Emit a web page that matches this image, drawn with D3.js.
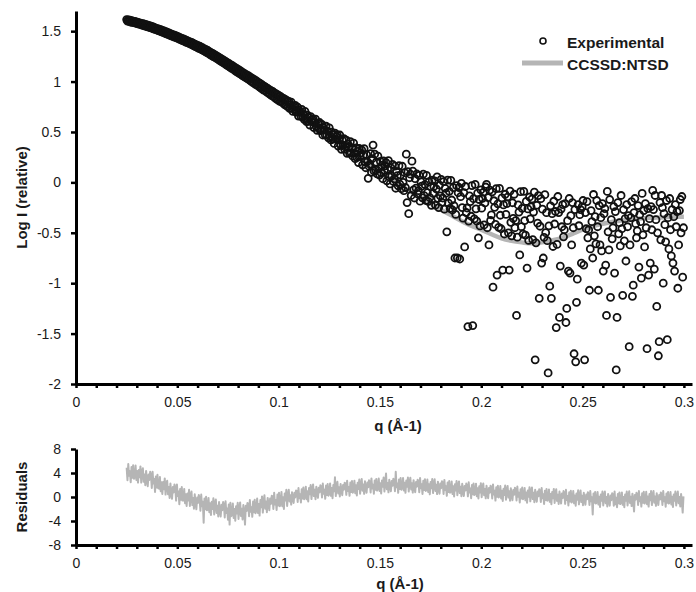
<!DOCTYPE html>
<html>
<head>
<meta charset="utf-8">
<script src="https://cdn.jsdelivr.net/npm/d3@7"></script>
<style>
  body { margin: 0; background: #fff; }
  text { font-family: Arial, "Liberation Sans", sans-serif; fill: #1a1a1a; }
</style>
</head>
<body>
<div id="chart"></div>
<script>
// q values (Å-1) of the measured curve
const qExp = [
  0.025,0.0254,0.0258,0.0262,0.0266,0.027,0.0274,0.0278,0.0282,0.0286,
  0.029,0.0294,0.0298,0.0302,0.0306,0.031,0.0314,0.0318,0.0322,0.0326,
  0.033,0.0334,0.0338,0.0342,0.0346,0.035,0.0354,0.0358,0.0362,0.0366,
  0.037,0.0374,0.0378,0.0382,0.0386,0.039,0.0394,0.0398,0.0402,0.0406,
  0.041,0.0414,0.0418,0.0422,0.0426,0.043,0.0434,0.0438,0.0442,0.0446,
  0.045,0.0454,0.0458,0.0462,0.0466,0.047,0.0474,0.0478,0.0482,0.0486,
  0.049,0.0494,0.0498,0.0502,0.0506,0.051,0.0514,0.0518,0.0522,0.0526,
  0.053,0.0534,0.0538,0.0542,0.0546,0.055,0.0554,0.0558,0.0562,0.0566,
  0.057,0.0574,0.0578,0.0582,0.0586,0.059,0.0594,0.0598,0.0602,0.0606,
  0.061,0.0614,0.0618,0.0622,0.0626,0.063,0.0634,0.0638,0.0642,0.0646,
  0.065,0.0654,0.0658,0.0662,0.0666,0.067,0.0674,0.0678,0.0682,0.0686,
  0.069,0.0694,0.0698,0.0702,0.0706,0.071,0.0714,0.0718,0.0722,0.0726,
  0.073,0.0734,0.0738,0.0742,0.0746,0.075,0.0754,0.0758,0.0762,0.0766,
  0.077,0.0774,0.0778,0.0782,0.0786,0.079,0.0794,0.0798,0.0802,0.0806,
  0.081,0.0814,0.0818,0.0822,0.0826,0.083,0.0834,0.0838,0.0842,0.0846,
  0.085,0.0854,0.0858,0.0862,0.0866,0.087,0.0874,0.0878,0.0882,0.0886,
  0.089,0.0894,0.0898,0.0902,0.0906,0.091,0.0914,0.0918,0.0922,0.0926,
  0.093,0.0934,0.0938,0.0942,0.0946,0.095,0.0954,0.0958,0.0962,0.0966,
  0.097,0.0974,0.0978,0.0982,0.0986,0.099,0.0994,0.0998,0.1002,0.1006,
  0.101,0.1014,0.1018,0.1022,0.1026,0.103,0.1034,0.1038,0.1042,0.1046,
  0.105,0.1054,0.1058,0.1062,0.1066,0.107,0.1074,0.1078,0.1082,0.1086,
  0.109,0.1094,0.1098,0.1102,0.1106,0.111,0.1114,0.1118,0.1122,0.1126,
  0.113,0.1134,0.1138,0.1142,0.1146,0.115,0.1154,0.1158,0.1162,0.1166,
  0.117,0.1174,0.1178,0.1182,0.1186,0.119,0.1194,0.1198,0.1202,0.1206,
  0.121,0.1214,0.1218,0.1222,0.1226,0.123,0.1234,0.1238,0.1242,0.1246,
  0.125,0.1254,0.1258,0.1262,0.1266,0.127,0.1274,0.1278,0.1282,0.1286,
  0.129,0.1294,0.1298,0.1302,0.1306,0.131,0.1314,0.1318,0.1322,0.1326,
  0.133,0.1334,0.1338,0.1342,0.1346,0.135,0.1354,0.1358,0.1362,0.1366,
  0.137,0.1374,0.1378,0.1382,0.1386,0.139,0.1394,0.1398,0.1402,0.1406,
  0.141,0.1414,0.1418,0.1422,0.1426,0.143,0.1434,0.1438,0.1442,0.1446,
  0.145,0.1454,0.1458,0.1462,0.1466,0.147,0.1474,0.1478,0.1482,0.1486,
  0.149,0.1494,0.1498,0.1502,0.1506,0.151,0.1514,0.1518,0.1522,0.1526,
  0.153,0.1534,0.1538,0.1542,0.1546,0.155,0.1554,0.1558,0.1562,0.1566,
  0.157,0.1574,0.1578,0.1582,0.1586,0.159,0.1594,0.1598,0.1602,0.1606,
  0.161,0.1614,0.1618,0.1622,0.1626,0.163,0.1634,0.1638,0.1642,0.1646,
  0.165,0.1654,0.1658,0.1662,0.1666,0.167,0.1674,0.1678,0.1682,0.1686,
  0.169,0.1694,0.1698,0.1702,0.1706,0.171,0.1714,0.1718,0.1722,0.1726,
  0.173,0.1734,0.1738,0.1742,0.1746,0.175,0.1754,0.1758,0.1762,0.1766,
  0.177,0.1774,0.1778,0.1782,0.1786,0.179,0.1794,0.1798,0.1802,0.1806,
  0.181,0.1814,0.1818,0.1822,0.1826,0.183,0.1834,0.1838,0.1842,0.1846,
  0.185,0.1854,0.1858,0.1862,0.1866,0.187,0.1874,0.1878,0.1882,0.1886,
  0.189,0.1894,0.1898,0.1902,0.1906,0.191,0.1914,0.1918,0.1922,0.1926,
  0.193,0.1934,0.1938,0.1942,0.1946,0.195,0.1954,0.1958,0.1962,0.1966,
  0.197,0.1974,0.1978,0.1982,0.1986,0.199,0.1994,0.1998,0.2002,0.2006,
  0.201,0.2014,0.2018,0.2022,0.2026,0.203,0.2034,0.2038,0.2042,0.2046,
  0.205,0.2054,0.2058,0.2062,0.2066,0.207,0.2074,0.2078,0.2082,0.2086,
  0.209,0.2094,0.2098,0.2102,0.2106,0.211,0.2114,0.2118,0.2122,0.2126,
  0.213,0.2134,0.2138,0.2142,0.2146,0.215,0.2154,0.2158,0.2162,0.2166,
  0.217,0.2174,0.2178,0.2182,0.2186,0.219,0.2194,0.2198,0.2202,0.2206,
  0.221,0.2214,0.2218,0.2222,0.2226,0.223,0.2234,0.2238,0.2242,0.2246,
  0.225,0.2254,0.2258,0.2262,0.2266,0.227,0.2274,0.2278,0.2282,0.2286,
  0.229,0.2294,0.2298,0.2302,0.2306,0.231,0.2314,0.2318,0.2322,0.2326,
  0.233,0.2334,0.2338,0.2342,0.2346,0.235,0.2354,0.2358,0.2362,0.2366,
  0.237,0.2374,0.2378,0.2382,0.2386,0.239,0.2394,0.2398,0.2402,0.2406,
  0.241,0.2414,0.2418,0.2422,0.2426,0.243,0.2434,0.2438,0.2442,0.2446,
  0.245,0.2454,0.2458,0.2462,0.2466,0.247,0.2474,0.2478,0.2482,0.2486,
  0.249,0.2494,0.2498,0.2502,0.2506,0.251,0.2514,0.2518,0.2522,0.2526,
  0.253,0.2534,0.2538,0.2542,0.2546,0.255,0.2554,0.2558,0.2562,0.2566,
  0.257,0.2574,0.2578,0.2582,0.2586,0.259,0.2594,0.2598,0.2602,0.2606,
  0.261,0.2614,0.2618,0.2622,0.2626,0.263,0.2634,0.2638,0.2642,0.2646,
  0.265,0.2654,0.2658,0.2662,0.2666,0.267,0.2674,0.2678,0.2682,0.2686,
  0.269,0.2694,0.2698,0.2702,0.2706,0.271,0.2714,0.2718,0.2722,0.2726,
  0.273,0.2734,0.2738,0.2742,0.2746,0.275,0.2754,0.2758,0.2762,0.2766,
  0.277,0.2774,0.2778,0.2782,0.2786,0.279,0.2794,0.2798,0.2802,0.2806,
  0.281,0.2814,0.2818,0.2822,0.2826,0.283,0.2834,0.2838,0.2842,0.2846,
  0.285,0.2854,0.2858,0.2862,0.2866,0.287,0.2874,0.2878,0.2882,0.2886,
  0.289,0.2894,0.2898,0.2902,0.2906,0.291,0.2914,0.2918,0.2922,0.2926,
  0.293,0.2934,0.2938,0.2942,0.2946,0.295,0.2954,0.2958,0.2962,0.2966,
  0.297,0.2974,0.2978,0.2982,0.2986,0.299,0.2994,0.2998
];

// Log I of the measured points, one per q above
const logI = [
  1.615,1.600,1.612,1.598,1.610,1.590,1.605,1.588,1.600,1.585,
  1.598,1.580,1.592,1.575,1.588,1.570,1.583,1.566,1.578,1.560,
  1.575,1.556,1.570,1.551,1.565,1.545,1.560,1.540,1.555,1.536,
  1.550,1.530,1.544,1.523,1.538,1.518,1.531,1.512,1.526,1.506,
  1.521,1.500,1.515,1.494,1.508,1.487,1.502,1.481,1.495,1.474,
  1.489,1.468,1.482,1.461,1.476,1.454,1.469,1.447,1.462,1.440,
  1.457,1.435,1.450,1.428,1.443,1.421,1.436,1.413,1.429,1.406,
  1.423,1.400,1.416,1.392,1.409,1.386,1.401,1.378,1.394,1.371,
  1.389,1.363,1.380,1.354,1.372,1.346,1.364,1.338,1.357,1.330,
  1.351,1.325,1.342,1.314,1.333,1.306,1.325,1.297,1.316,1.287,
  1.308,1.279,1.297,1.268,1.288,1.258,1.279,1.248,1.270,1.239,
  1.260,1.230,1.249,1.219,1.240,1.208,1.231,1.198,1.221,1.188,
  1.211,1.178,1.199,1.166,1.189,1.155,1.180,1.145,1.169,1.133,
  1.160,1.125,1.148,1.113,1.138,1.102,1.128,1.092,1.118,1.080,
  1.108,1.072,1.096,1.060,1.086,1.049,1.077,1.039,1.066,1.028,
  1.058,1.018,1.046,1.006,1.036,0.994,1.027,0.984,1.016,0.973,
  1.007,0.964,0.995,0.951,0.985,0.939,0.974,0.927,0.963,0.915,
  0.953,0.909,0.941,0.896,0.931,0.884,0.921,0.872,0.910,0.860,
  0.902,0.853,0.889,0.839,0.880,0.826,0.871,0.815,0.861,0.804,
  0.851,0.800,0.838,0.785,0.830,0.772,0.821,0.760,0.810,0.751,
  0.803,0.733,0.771,0.797,0.735,0.705,0.759,0.725,0.763,0.697,
  0.702,0.745,0.658,0.715,0.696,0.654,0.724,0.651,0.681,0.625,
  0.705,0.639,0.603,0.667,0.606,0.640,0.569,0.653,0.602,0.621,
  0.630,0.544,0.593,0.628,0.552,0.516,0.585,0.544,0.594,0.513,
  0.520,0.574,0.470,0.541,0.520,0.470,0.557,0.470,0.508,0.442,
  0.540,0.462,0.421,0.499,0.428,0.470,0.386,0.489,0.429,0.454,
  0.470,0.360,0.425,0.470,0.373,0.328,0.420,0.368,0.433,0.329,
  0.349,0.420,0.288,0.380,0.353,0.291,0.404,0.293,0.343,0.260,
  0.390,0.289,0.235,0.342,0.248,0.307,0.197,0.336,0.258,0.293,
  0.323,0.174,0.268,0.335,0.204,0.145,0.275,0.207,0.040,0.161,
  0.180,0.285,0.100,0.235,0.370,0.115,0.280,0.125,0.200,0.085,
  0.260,0.136,0.072,0.208,0.094,0.170,0.036,0.212,0.118,0.164,
  0.197,0.016,0.132,0.215,0.056,-0.015,0.145,0.063,0.179,0.009,
  0.034,0.162,-0.058,0.106,0.066,-0.034,0.166,-0.018,0.074,-0.062,
  0.160,0.000,-0.082,0.096,-0.051,0.280,-0.200,0.106,-0.310,0.046,
  0.081,-0.130,0.210,0.111,-0.074,-0.155,0.037,-0.057,0.083,-0.115,
  -0.082,0.069,-0.186,0.007,-0.038,-0.153,0.082,-0.131,-0.022,-0.179,
  0.070,-0.101,-0.188,0.005,-0.152,-0.043,-0.228,0.021,-0.108,-0.041,
  0.015,-0.227,-0.064,0.054,-0.158,-0.250,-0.027,-0.134,0.029,-0.198,
  -0.155,0.007,-0.266,-0.059,-0.107,-0.490,0.022,-0.206,-0.089,-0.257,
  0.020,-0.175,-0.274,-0.053,-0.232,-0.750,-0.318,-0.033,-0.750,-0.103,
  -0.051,-0.760,-0.142,-0.009,-0.250,-0.355,-0.103,-0.640,-0.041,-0.299,
  -0.254,-1.430,-0.384,-0.134,-0.190,-0.336,-0.032,-1.420,-0.162,-0.362,
  -0.020,-0.262,-0.384,-0.106,-0.550,-0.170,-0.432,-0.074,-0.256,-0.158,
  -0.100,-0.422,-0.204,-0.046,-0.020,-0.450,-0.152,-0.620,-0.076,-0.378,
  -0.323,-0.094,-1.040,-0.182,-0.247,-0.417,-0.062,-0.920,-0.213,-0.446,
  -0.060,-0.326,-0.460,-0.154,-0.870,-0.224,-0.512,-0.118,-0.318,-0.210,
  -0.146,-0.500,-0.870,-0.086,-0.396,-0.530,-0.202,-0.358,-0.118,-0.450,
  -0.379,-1.320,-0.544,-0.224,-0.295,-0.720,-0.092,-0.439,-0.257,-0.512,
  -0.090,-0.379,-0.524,-0.189,-0.850,-0.263,-0.576,-0.145,-0.362,-0.243,
  -0.165,-0.567,-0.294,-0.096,-1.760,-0.600,-0.227,-0.404,-0.131,-1.150,
  -0.435,-0.162,-0.800,-0.266,-0.750,-0.545,-0.122,-0.499,-0.301,-0.578,
  -1.890,-0.431,-1.030,-0.233,-1.150,-0.310,-0.636,-0.187,-0.413,-0.289,
  -1.440,-0.615,-0.140,-0.300,-1.340,-0.830,-0.265,-0.440,-0.220,-0.540,
  -0.47,-0.21,-1.39,-1.25,-0.38,-0.88,-0.16,-0.90,-0.33,-0.62,
  -0.20,-0.45,-1.70,-0.27,-1.78,-1.19,-0.96,-0.22,-0.43,-0.32,
  -0.27,-0.80,-0.24,-0.18,-0.82,-1.76,-0.30,-0.46,-0.19,-0.55,
  -0.47,-1.07,-0.66,-0.28,-0.39,-0.75,-0.12,-0.53,-0.34,-0.61,
  -0.18,-0.44,-1.07,-0.23,-0.62,-0.35,-0.68,-0.21,-0.88,-0.31,
  -0.26,-0.82,-1.32,-0.09,-0.49,-0.67,-0.17,-1.14,-0.37,-0.56,
  -0.45,-0.24,-0.90,-0.29,-1.86,-1.34,-0.20,-0.51,-0.40,-0.63,
  -0.13,-0.46,-1.12,-0.27,-0.58,-0.36,-0.78,-0.22,-0.44,-0.33,
  -1.63,-0.62,-0.35,-0.19,-1.13,-1.02,-0.30,-0.16,-0.41,-0.55,
  -0.48,-0.23,-0.84,-0.32,-0.39,-0.95,-0.11,-0.52,-0.28,-0.64,
  -0.21,-0.45,-1.65,-0.26,-0.92,-0.36,-0.80,-0.24,-0.47,-0.08,
  -0.27,-0.86,-0.13,-0.37,-1.23,-0.50,-1.72,-1.58,-0.20,-0.57,
  -0.13,-0.25,-1.00,-0.31,-0.42,-0.59,-0.18,-1.56,-0.35,-0.66,
  -0.16,-0.47,-0.73,-0.27,-0.80,-0.34,-0.88,-0.22,-0.44,-0.29,
  -1.05,-0.62,-0.28,-0.17,-0.50,-0.14,-0.94,-0.45
];

// model curve CCSSD:NTSD
const qFit = [0.025,0.03,0.035,0.04,0.045,0.05,0.055,0.06,0.065,0.07,0.075,0.08,0.085,0.09,0.095,
  0.1,0.105,0.11,0.115,0.12,0.125,0.13,0.135,0.14,0.145,0.15,0.155,0.16,0.165,0.17,0.175,0.18,0.185,
  0.19,0.195,0.2,0.205,0.21,0.215,0.22,0.225,0.23,0.235,0.24,0.245,0.25,0.255,0.26,0.265,0.27,0.275,
  0.28,0.285,0.29,0.295,0.3];
const logIFit = [1.61,1.585,1.555,1.52,1.48,1.44,1.395,1.35,1.295,1.235,1.17,1.105,1.04,0.975,0.905,
  0.84,0.775,0.70,0.625,0.55,0.48,0.41,0.33,0.25,0.175,0.10,0.035,-0.03,-0.09,-0.15,-0.21,-0.27,-0.325,
  -0.38,-0.43,-0.47,-0.515,-0.555,-0.58,-0.595,-0.605,-0.595,-0.575,-0.55,-0.51,-0.47,-0.435,-0.41,-0.39,-0.375,-0.365,
  -0.355,-0.35,-0.345,-0.342,-0.34];

// residuals, one per q in qExp
const residuals = [
  4.9,2.8,5.5,3.55,4.3,2.45,5.0,3.2,5.3,3.05,
  3.3,5.25,2.85,4.35,2.4,4.5,3.3,5.1,2.4,4.2,
  4.8,2.55,3.75,1.95,4.35,2.7,1.8,3.75,2.85,4.2,
  3.6,1.5,4.2,2.25,3.0,0.85,3.4,1.6,3.7,1.45,
  1.4,3.35,0.95,2.45,0.5,2.5,1.3,3.1,0.4,2.2,
  2.7,0.45,1.65,-0.15,2.25,0.6,-0.3,1.65,0.75,2.1,
  1.5,-0.6,2.1,0.15,0.9,-1.2,1.35,-0.45,1.65,-0.6,
  -0.6,1.35,-1.05,0.45,-1.5,0.6,-0.6,1.2,-1.5,0.3,
  0.9,-1.35,-0.15,-1.95,0.45,-1.15,-2.05,-0.1,-1.0,0.35,
  -0.2,-2.3,0.4,-1.55,-0.8,-4.3,-0.25,-2.05,0.05,-2.2,
  -2.1,-0.15,-2.55,-1.05,-3.0,-0.8,-2.0,-0.2,-2.9,-1.1,
  -0.4,-2.65,-1.45,-3.25,-0.85,-2.35,-3.25,-1.3,-2.2,-0.85,
  -1.3,-3.4,-0.7,-2.65,-1.9,-3.8,-1.25,-4.6,-0.95,-3.2,
  -3.05,-1.1,-3.5,-2.0,-3.95,-1.55,-2.75,-0.95,-3.65,-1.85,
  -0.9,-3.15,-1.95,-3.75,-1.35,-2.5,-4.6,-1.45,-2.35,-1.0,
  -1.1,-3.2,-0.5,-2.45,-1.7,-3.3,-0.75,-2.55,-0.45,-2.7,
  -2.2,-0.25,-2.65,-1.15,-3.1,-0.5,-1.7,0.1,-2.6,-0.8,
  0.3,-1.95,-0.75,-2.55,-0.15,-1.3,-2.2,-0.25,-1.15,0.2,
  0.1,-2.0,0.7,-1.25,-0.5,-2.15,0.4,-1.4,0.7,-1.55,
  -1.1,0.85,-1.55,-0.05,-2.0,0.6,-0.6,1.2,-1.5,0.3,
  1.2,-0.75,0.3,-1.27,0.81,-0.21,-0.99,0.7,-0.08,1.09,
  0.98,-0.84,1.5,-0.19,0.46,-0.9,1.31,-0.25,1.57,-0.38,
  0.03,1.72,-0.36,0.94,-0.75,1.48,0.44,2.0,-0.34,1.22,
  2.1,0.15,1.19,-0.37,1.71,0.64,-0.14,1.55,0.77,1.94,
  1.73,-0.09,2.25,0.56,1.21,-0.3,1.91,0.35,2.17,0.22,
  0.58,2.27,0.19,1.49,-0.2,1.98,0.94,3.3,0.16,1.72,
  2.55,0.6,1.64,0.08,2.16,1.09,0.31,2.0,1.22,2.39,
  2.18,0.36,2.7,1.01,1.66,0.2,2.41,0.85,2.67,0.72,
  1.03,2.72,0.64,1.94,0.25,2.38,1.34,2.9,0.56,2.12,
  3.0,1.05,2.09,0.53,2.61,1.49,0.71,2.4,1.62,2.79,
  2.58,0.76,3.1,1.41,2.06,0.55,2.76,1.2,3.02,1.07,
  1.38,3.07,0.99,2.29,0.6,2.73,1.69,3.25,0.91,2.47,
  3.9,1.3,2.34,0.78,2.86,1.74,0.96,2.65,1.87,3.04,
  2.78,0.96,4.2,1.61,2.26,0.7,2.91,1.35,3.17,1.22,
  1.48,3.17,1.09,2.39,0.7,2.73,1.69,3.25,0.91,2.47,
  3.2,1.25,2.29,0.73,2.81,1.59,0.81,2.5,1.72,2.89,
  2.63,0.81,3.15,1.46,2.11,0.5,2.71,1.15,2.97,1.02,
  1.23,2.92,0.84,2.14,0.45,2.48,1.44,3.0,0.66,2.22,
  2.95,1.0,2.04,0.48,2.56,1.34,0.56,2.25,1.47,2.64,
  2.33,0.51,2.85,1.16,1.81,0.2,2.41,0.85,2.67,0.72,
  0.88,2.57,0.49,1.79,0.1,2.13,1.09,2.65,0.31,1.87,
  2.6,0.65,1.69,0.13,2.21,0.94,0.16,1.85,1.07,2.24,
  1.93,0.11,2.45,0.76,1.41,-0.2,2.01,0.45,2.27,0.32,
  0.53,2.22,0.14,1.44,-0.25,1.78,0.74,2.3,-0.04,1.52,
  2.25,0.3,1.34,-0.22,1.86,0.59,-0.19,1.5,0.72,1.89,
  1.58,-0.24,2.1,0.41,1.06,-0.6,1.61,0.05,1.87,-0.08,
  0.13,1.82,-0.26,1.04,-0.65,1.38,0.34,1.9,-0.44,1.12,
  1.85,-0.1,0.94,-0.62,1.46,0.24,-0.54,1.15,0.37,1.54,
  1.23,-0.59,1.75,0.06,0.71,-0.9,1.31,-0.25,1.57,-0.38,
  -0.17,1.52,-0.56,0.74,-0.95,1.1,0.06,1.62,-0.72,0.84,
  1.6,-0.35,0.69,-0.87,1.21,-0.01,-0.79,0.9,0.12,1.29,
  0.98,-0.84,1.5,-0.19,0.46,-1.15,1.06,-0.5,1.32,-0.63,
  -0.42,1.27,-0.81,0.49,-1.2,0.83,-0.21,1.35,-0.99,0.57,
  1.3,-0.65,0.39,-1.17,0.91,-0.31,-1.09,0.6,-0.18,0.99,
  0.68,-1.14,1.2,-0.49,0.16,-1.42,0.79,-0.77,1.05,-0.9,
  -0.67,1.02,-1.06,0.24,-1.45,0.6,-0.44,1.12,-1.22,0.34,
  1.1,-0.85,0.19,-1.37,0.71,-0.51,-1.29,0.4,-0.38,0.79,
  0.48,-1.34,1.0,-0.69,-0.04,-2.9,0.59,-0.97,0.85,-1.1,
  -0.87,0.82,-1.26,0.04,-1.65,0.4,-0.64,0.92,-1.42,0.14,
  0.9,-1.05,-0.01,-1.57,0.51,-0.66,-1.44,0.25,-0.53,0.64,
  0.38,-1.44,0.9,-1.2,-0.14,-1.7,0.51,-1.05,0.77,-1.18,
  -0.92,0.77,-1.31,-0.01,-1.7,0.4,-0.64,0.92,-1.42,0.14,
  0.95,-1.0,0.04,-1.52,0.56,-0.58,-2.4,0.33,-0.45,0.72,
  0.48,-1.34,1.0,-0.69,-0.04,-1.6,0.61,-0.95,0.87,-1.08,
  -0.82,0.87,-1.21,0.09,-1.6,0.48,-0.56,1.0,-1.34,0.22,
  1.0,-0.95,0.09,-1.47,0.61,-0.56,-1.34,0.35,-0.43,0.74,
  0.48,-1.34,1.0,-0.69,-0.04,-1.62,0.59,-0.97,0.85,-1.1,
  -0.87,0.82,-1.26,0.04,-1.65,0.4,-0.64,0.92,-1.42,0.14,
  0.9,-1.05,-0.01,-1.57,0.51,-0.7,-2.6,0.1
];

const xLabels = [0, 0.05, 0.1, 0.15, 0.2, 0.25, 0.3];
const xMinorTicks = [0,0.01,0.02,0.03,0.04,0.05,0.06,0.07,0.08,0.09,0.1,0.11,0.12,0.13,0.14,0.15,
  0.16,0.17,0.18,0.19,0.2,0.21,0.22,0.23,0.24,0.25,0.26,0.27,0.28,0.29,0.3];
const yTicksMain = [-2, -1.5, -1, -0.5, 0, 0.5, 1, 1.5];
const yTicksRes = [-8, -4, 0, 4, 8];
const legendNames = ["Experimental", "CCSSD:NTSD"];

const width = 696;
const height = 592;
const fitColor = "#b5b5b5";

const x = d3.scaleLinear([0, 0.304], [76, 692]);
const y = d3.scaleLinear([-2, 1.7], [384, 11]);
const yRes = d3.scaleLinear([-8, 8], [545, 449]);

const svg = d3.create("svg")
    .attr("width", width)
    .attr("height", height)
    .style("background", "#fff");

const fmtX = d => xLabels.some(v => Math.abs(v - d) < 1e-9) ? String(+d.toFixed(2)) : "";

function styleAxis(g) {
  g.select(".domain").attr("stroke", "#000").attr("stroke-width", 3);
  g.selectAll(".tick line").attr("stroke", "#000").attr("stroke-width", 2.5);
  g.selectAll(".tick text").attr("font-size", 14).attr("fill", "#222")
    .attr("font-family", "Arial, 'Liberation Sans', sans-serif");
}

// ---------- main panel ----------
const n = Math.min(qExp.length, logI.length, residuals.length);
const dataMain = qExp.slice(0, n).map((q, i) => [q, logI[i]]);
const dataFit = qFit.map((q, i) => [q, logIFit[i]]);

const line = d3.line().x(d => x(d[0])).y(d => y(d[1])).curve(d3.curveMonotoneX);

svg.append("path")
    .attr("d", line(dataFit))
    .attr("fill", "none")
    .attr("stroke", fitColor)
    .attr("stroke-width", 4.5);

svg.append("g")
  .selectAll("circle")
  .data(dataMain)
  .join("circle")
    .attr("cx", d => x(d[0]))
    .attr("cy", d => y(d[1]))
    .attr("r", 3.5)
    .attr("fill", "none")
    .attr("stroke", "#111")
    .attr("stroke-width", 1.8);

svg.append("g")
    .attr("transform", `translate(0,${y(-2)})`)
    .call(d3.axisBottom(x).tickValues(xMinorTicks).tickFormat(fmtX).tickSize(4).tickSizeOuter(0).tickPadding(9))
    .call(styleAxis);

svg.append("g")
    .attr("transform", `translate(${x(0)},0)`)
    .call(d3.axisLeft(y).tickValues(yTicksMain).tickFormat(d => String(d)).tickSize(5).tickSizeOuter(0).tickPadding(10))
    .call(styleAxis);

svg.append("text")
    .text("Log I (relative)")
    .attr("transform", `translate(21,${(y(-2) + y(1.7)) / 2}) rotate(-90)`)
    .attr("text-anchor", "middle")
    .attr("dominant-baseline", "central")
    .attr("font-weight", "bold")
    .attr("font-size", 15);

svg.append("text")
    .text("q (Å-1)")
    .attr("x", 398)
    .attr("y", 425)
    .attr("text-anchor", "middle")
    .attr("dominant-baseline", "central")
    .attr("font-weight", "bold")
    .attr("font-size", 15);

// legend
const legend = svg.append("g");
legend.append("circle")
    .attr("cx", 543).attr("cy", 41).attr("r", 3)
    .attr("fill", "none").attr("stroke", "#111").attr("stroke-width", 1.6);
legend.append("line")
    .attr("x1", 522).attr("x2", 563).attr("y1", 63).attr("y2", 63)
    .attr("stroke", fitColor).attr("stroke-width", 5);
legend.selectAll("text.lg")
  .data(legendNames)
  .join("text")
    .attr("class", "lg")
    .text(d => d)
    .attr("x", 567)
    .attr("y", (d, i) => 42 + i * 22)
    .attr("dominant-baseline", "central")
    .attr("font-weight", "bold")
    .attr("font-size", 15.5);

// ---------- residuals panel ----------
const dataRes = qExp.slice(0, n).map((q, i) => [q, residuals[i]]);
const lineRes = d3.line().x(d => x(d[0])).y(d => yRes(d[1]));

svg.append("path")
    .attr("d", lineRes(dataRes))
    .attr("fill", "none")
    .attr("stroke", fitColor)
    .attr("stroke-width", 2)
    .attr("stroke-linejoin", "round");

svg.append("g")
    .attr("transform", `translate(0,${yRes(-8)})`)
    .call(d3.axisBottom(x).tickValues(xMinorTicks).tickFormat(fmtX).tickSize(4).tickSizeOuter(0).tickPadding(9))
    .call(styleAxis);

svg.append("g")
    .attr("transform", `translate(${x(0)},0)`)
    .call(d3.axisLeft(yRes).tickValues(yTicksRes).tickFormat(d => String(d)).tickSize(5).tickSizeOuter(0).tickPadding(10))
    .call(styleAxis);

svg.append("text")
    .text("Residuals")
    .attr("transform", `translate(21,${yRes(0)}) rotate(-90)`)
    .attr("text-anchor", "middle")
    .attr("dominant-baseline", "central")
    .attr("font-weight", "bold")
    .attr("font-size", 15);

svg.append("text")
    .text("q (Å-1)")
    .attr("x", 400)
    .attr("y", 583)
    .attr("text-anchor", "middle")
    .attr("dominant-baseline", "central")
    .attr("font-weight", "bold")
    .attr("font-size", 15);

document.getElementById("chart").append(svg.node());
</script>
</body>
</html>
